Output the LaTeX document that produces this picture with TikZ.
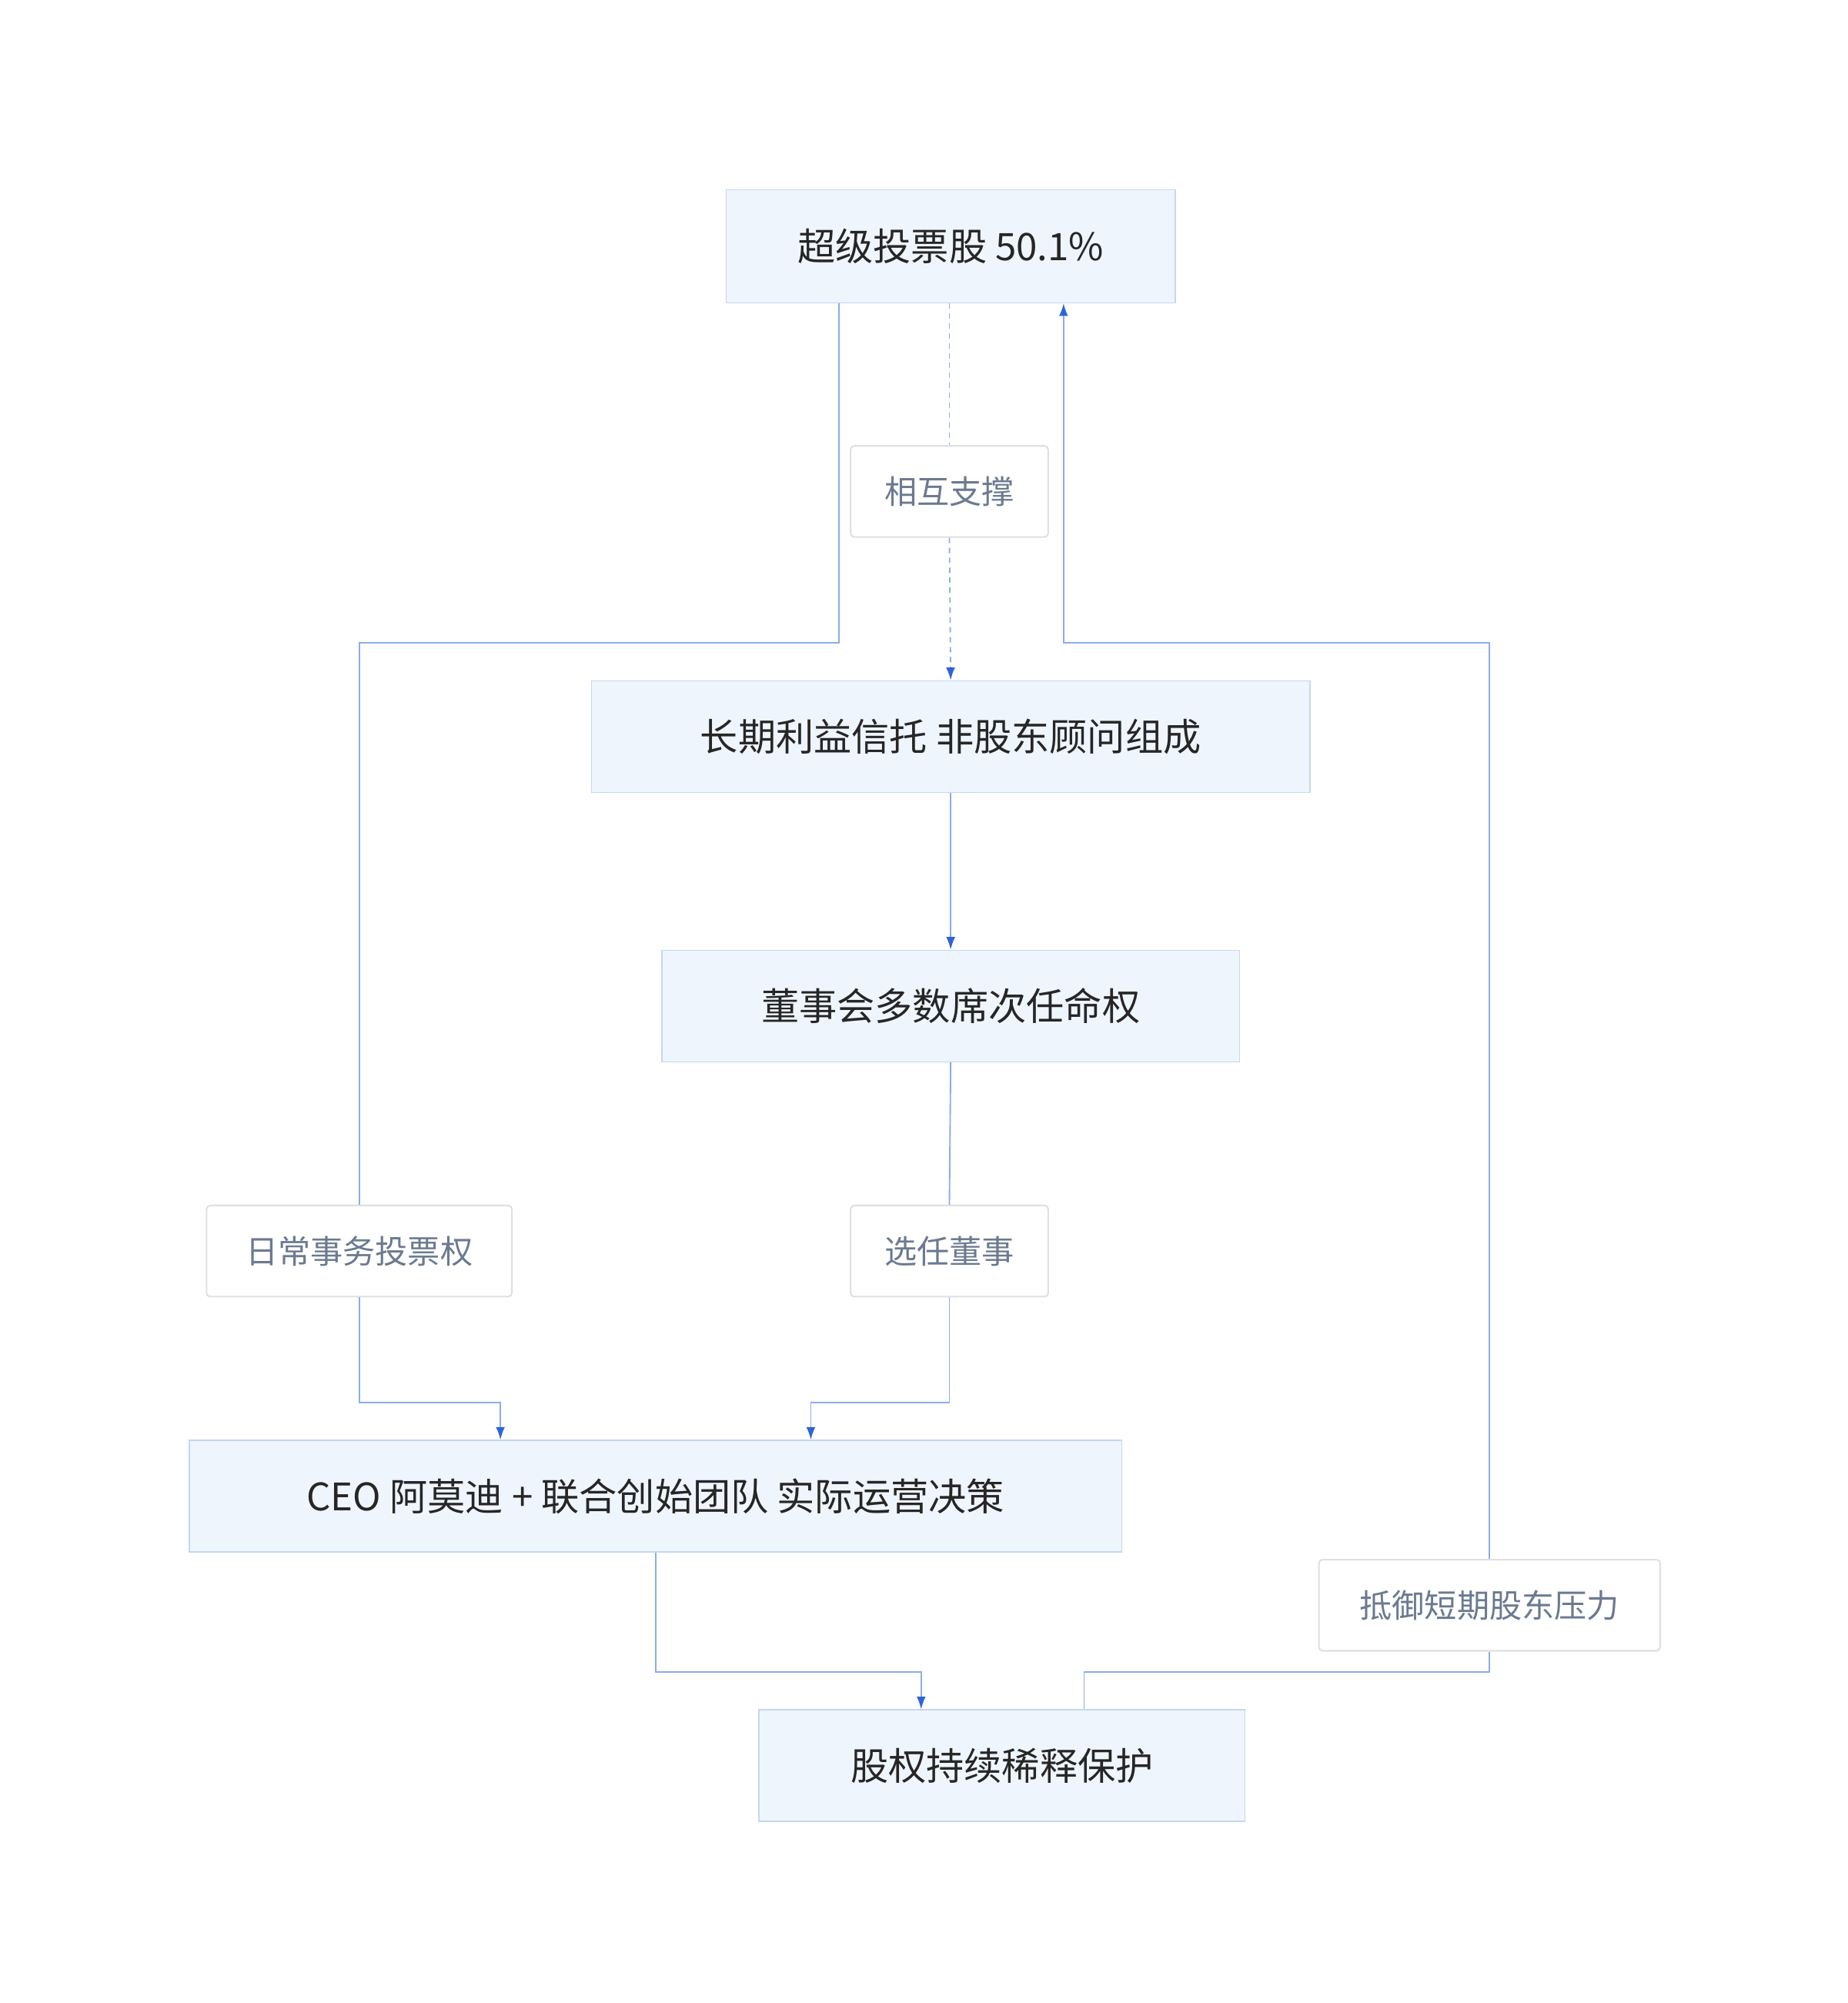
\documentclass[tikz,border=0pt]{standalone}
\usepackage{fontspec}
\setmainfont{Noto Sans CJK SC}
\usetikzlibrary{arrows.meta}
\definecolor{boxfill}{HTML}{EFF5FD}
\definecolor{boxline}{HTML}{C5D7F0}
\definecolor{edge}{HTML}{8AADEC}
\definecolor{tip}{HTML}{2E64D8}
\definecolor{tagline}{HTML}{E0E0E0}
\definecolor{tagtext}{HTML}{6B7A90}
\tikzset{
  box/.style={draw=boxline, fill=boxfill, line width=1.2pt, inner sep=0pt, font=\fontsize{42}{48}\selectfont, text=black!85},
  tag/.style={draw=tagline, fill=white, line width=1.8pt, rounded corners=4pt, inner sep=0pt, font=\fontsize{36}{42}\selectfont, text=tagtext},
  link/.style={draw=edge, line width=1.6pt},
  arr/.style={link, -{Latex[length=14pt, width=10pt, color=tip]}}
}
\begin{document}
\begin{tikzpicture}[x=0.05cm, y=-0.05cm]
	\useasboundingbox (0,0) rectangle (1440,1561);
	%boxes
	\node[box, minimum width=350*0.05cm, minimum height=88*0.05cm] (vote) at (741,192) {超级投票股 50.1\%};
	\node[box, minimum width=560*0.05cm, minimum height=87*0.05cm] (trust) at (741,574) {长期利益信托 非股东顾问组成};
	\node[box, minimum width=450*0.05cm, minimum height=87*0.05cm] (board) at (741,784) {董事会多数席次任命权};
	\node[box, minimum width=727*0.05cm, minimum height=87*0.05cm] (ceo) at (511,1166) {CEO 阿莫迪 + 联合创始团队 实际运营决策};
	\node[box, minimum width=379*0.05cm, minimum height=87*0.05cm] (dilute) at (781,1376) {股权持续稀释保护};
	%tags
	\node[tag, minimum width=154*0.05cm, minimum height=71*0.05cm] (mutual) at (740,383) {相互支撑};
	\node[tag, minimum width=238*0.05cm, minimum height=71*0.05cm] (daily) at (280,975) {日常事务投票权};
	\node[tag, minimum width=154*0.05cm, minimum height=71*0.05cm] (elect) at (740,975) {选任董事};
	\node[tag, minimum width=266*0.05cm, minimum height=71*0.05cm] (resist) at (1161,1251) {抵御短期股东压力};
	%bends
	\coordinate (v1) at (654,501);
	\coordinate (v2) at (280,501);
	\coordinate (d1) at (390,1093);
	\coordinate (e1) at (632,1093);
	\coordinate (c1) at (718,1303);
	\coordinate (r1) at (845,1303);
	\coordinate (r2) at (1161,501);
	\coordinate (r3) at (829,501);
	%links
	\draw[link] (vote.south -| v1) -- (v1) -- (v2) -- (daily.north);
	\draw[arr] (daily.south) |- (d1) -- (ceo.north -| d1);
	\draw[link, dashed, dash pattern=on 6pt off 5pt] (vote.south -| mutual) -- (mutual.north);
	\draw[arr, dashed, dash pattern=on 6pt off 5pt] (mutual.south) -- (trust.north);
	\draw[arr] (trust.south) -- (board.north);
	\draw[link] (board.south) -- (elect.north);
	\draw[arr] (elect.south) |- (e1) -- (ceo.north -| e1);
	\draw[arr] (ceo.south) |- (c1) -- (dilute.north -| c1);
	\draw[link] (dilute.north -| r1) -- (r1) -| (resist.south);
	\draw[arr] (resist.north) -- (r2) -- (r3) -- (vote.south -| r3);
\end{tikzpicture}
\end{document}
